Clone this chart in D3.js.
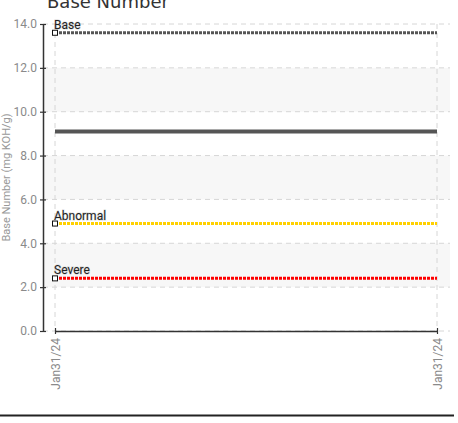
<!DOCTYPE html>
<html>
<head>
<meta charset="utf-8">
<script src="https://cdn.jsdelivr.net/npm/d3@7"></script>
<style>
	body { margin: 0; background: #fff; }
	svg { display: block; }
	.narrow { font-family: "Liberation Sans Narrow", "Roboto", sans-serif; }
</style>
</head>
<body>
<div id="chart"></div>
<script>
'use strict';

// chart values
const dates = ["Jan31/24", "Jan31/24"];
const yTicks = [0, 2, 4, 6, 8, 10, 12, 14];
const bands = [[2, 4], [6, 8], [10, 12]];
const meanValues = [9.1, 9.1];
const limitNames = ["Base", "Abnormal", "Severe"];
const limitValues = [[13.6, 13.6], [4.9, 4.9], [2.4, 2.4]];
const limitColors = ["#555555", "#ffd000", "#ff0000"];

const width = 458, height = 423;
const margin = { top: 24, right: 8, bottom: 92, left: 43 };
const innerW = width - margin.left - margin.right;
const innerH = height - margin.top - margin.bottom;

const svg = d3.select("#chart")
	.append("svg")
		.attr("width", width)
		.attr("height", height);

// title, its top runs off the page like the original
svg.append("text")
	.attr("x", 47)
	.attr("y", 8)
	.attr("font-family", "DejaVu Sans, sans-serif")
	.attr("font-size", 18)
	.attr("fill", "#333")
	.text("Base Number");

const g = svg.append("g")
	.attr("transform", `translate(${margin.left},${margin.top})`);

const x = d3.scaleLinear()
	.domain([0, dates.length - 1])
	.range([12, innerW - 13]);

const y = d3.scaleLinear()
	.domain([0, 14])
	.range([innerH, 0]);

// shaded bands
g.selectAll("rect.band")
	.data(bands)
	.join("rect")
		.attr("class", "band")
		.attr("x", 0)
		.attr("width", innerW)
		.attr("y", d => y(d[1]))
		.attr("height", d => y(d[0]) - y(d[1]))
		.attr("fill", "#f7f7f7");

// grid
g.selectAll("line.hgrid")
	.data(yTicks)
	.join("line")
		.attr("class", "hgrid")
		.attr("x1", 0).attr("x2", innerW)
		.attr("y1", d => y(d)).attr("y2", d => y(d))
		.attr("stroke", "#d6d6d6")
		.attr("stroke-dasharray", "5,4");

g.selectAll("line.vgrid")
	.data(dates.map((d, i) => i))
	.join("line")
		.attr("class", "vgrid")
		.attr("x1", d => x(d)).attr("x2", d => x(d))
		.attr("y1", 0).attr("y2", innerH)
		.attr("stroke", "#d6d6d6")
		.attr("stroke-dasharray", "5,4");

// mean line
const line = d3.line()
	.x((d, i) => x(i))
	.y(d => y(d));

g.append("path")
	.datum(meanValues)
	.attr("d", line)
	.attr("fill", "none")
	.attr("stroke", "#555")
	.attr("stroke-width", 4);

// limit lines with marker + label at the start
limitValues.forEach((vals, k) => {
	g.append("path")
		.datum(vals)
		.attr("d", line)
		.attr("fill", "none")
		.attr("stroke", limitColors[k])
		.attr("stroke-width", 3)
		.attr("stroke-dasharray", "3,1");

	g.append("rect")
		.attr("x", x(0) - 2.5)
		.attr("y", y(vals[0]) - 2.5)
		.attr("width", 5)
		.attr("height", 5)
		.attr("fill", "#fff")
		.attr("stroke", "#111")
		.attr("stroke-width", 1);

	g.append("text")
		.attr("class", "narrow")
		.attr("x", x(0) - 1)
		.attr("y", y(vals[0]) - 4)
		.attr("font-size", 12)
		.attr("fill", "#222")
		.style("paint-order", "stroke")
		.attr("stroke", "rgba(0,0,0,0.12)")
		.attr("stroke-width", 1.5)
		.text(limitNames[k]);
});

// axes
const yAxis = g.append("g")
	.call(d3.axisLeft(y)
		.tickValues(yTicks)
		.tickFormat(d3.format(".1f"))
		.tickSizeInner(3)
		.tickSizeOuter(0)
		.tickPadding(3));

yAxis.selectAll(".tick line").attr("x2", 3).attr("x1", -3);

const xAxis = g.append("g")
	.attr("transform", `translate(0,${innerH})`)
	.call(d3.axisBottom(x)
		.tickValues(dates.map((d, i) => i))
		.tickFormat(i => dates[i])
		.tickSizeInner(3)
		.tickSizeOuter(0));

xAxis.selectAll(".tick line").attr("y1", -3).attr("y2", 3);

xAxis.selectAll(".tick text")
	.attr("transform", "rotate(-90)")
	.attr("text-anchor", "end")
	.attr("x", -7)
	.attr("y", 0)
	.attr("dy", "0.35em");

[yAxis, xAxis].forEach(a => {
	a.attr("font-family", null);
	a.select(".domain").attr("stroke", "#333").attr("stroke-width", 1.5);
	a.selectAll(".tick line").attr("stroke", "#333").attr("stroke-width", 1.2);
	a.selectAll(".tick text")
		.attr("class", "narrow")
		.attr("font-size", 12)
		.attr("fill", "#8a8a8a");
});

// y label
svg.append("text")
	.attr("class", "narrow")
	.attr("transform", `translate(10,${margin.top + innerH / 2}) rotate(-90)`)
	.attr("text-anchor", "middle")
	.attr("font-size", 11)
	.attr("fill", "#999")
	.text("Base Number (mg KOH/g)");

// bottom rule
svg.append("line")
	.attr("x1", 0).attr("x2", 454)
	.attr("y1", 415.5).attr("y2", 415.5)
	.attr("stroke", "#222")
	.attr("stroke-width", 2);
</script>
</body>
</html>
